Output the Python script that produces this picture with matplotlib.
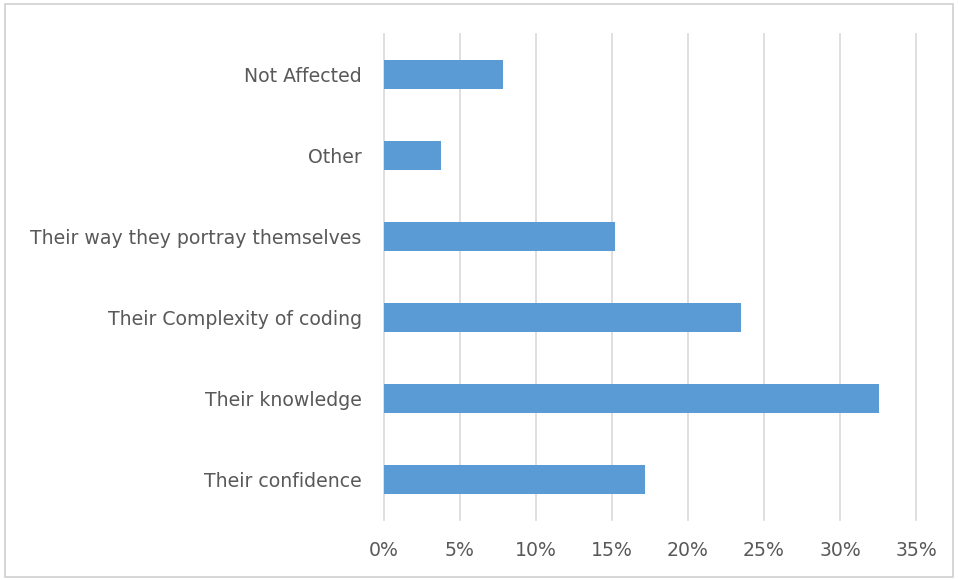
import matplotlib.pyplot as plt
from matplotlib.patches import Rectangle
from matplotlib.ticker import FuncFormatter

categories = [
    "Their confidence",
    "Their knowledge",
    "Their Complexity of coding",
    "Their way they portray themselves",
    "Other",
    "Not Affected",
]
values = [17.15, 32.55, 23.5, 15.2, 3.75, 7.8]
xticks = [0, 5, 10, 15, 20, 25, 30, 35]

plt.rcParams["font.family"] = ["DejaVu Sans"]

fig = plt.figure(figsize=(9.58, 5.8), dpi=100)
ax = fig.add_axes([0.4008, 0.1034, 0.9562 - 0.4008, 0.9414 - 0.1034])

ax.barh(range(len(categories)), values, height=0.36, color="#5b9bd5", zorder=3)
ax.set_ylim(-0.5, len(categories) - 0.5)
ax.set_xlim(0, 35)
ax.set_xticks(xticks)
ax.xaxis.set_major_formatter(FuncFormatter(lambda v, p: f"{v:.0f}%"))
ax.set_yticks(range(len(categories)))
ax.set_yticklabels(categories)

ax.grid(axis="x", color="#d9d9d9", linewidth=1.2, zorder=0)
for gl in ax.get_xgridlines():
    gl.set_clip_on(False)
for s in ax.spines.values():
    s.set_visible(False)
ax.tick_params(axis="both", length=0, labelsize=13.6, labelcolor="#595959")
ax.tick_params(axis="x", pad=15)
ax.tick_params(axis="y", pad=16)

fig.patches.append(Rectangle((0.005, 0.005), 0.99, 0.988, transform=fig.transFigure,
                             fill=False, edgecolor="#d0d0d0", linewidth=1.2))

fig.savefig("out.png", dpi=100)
